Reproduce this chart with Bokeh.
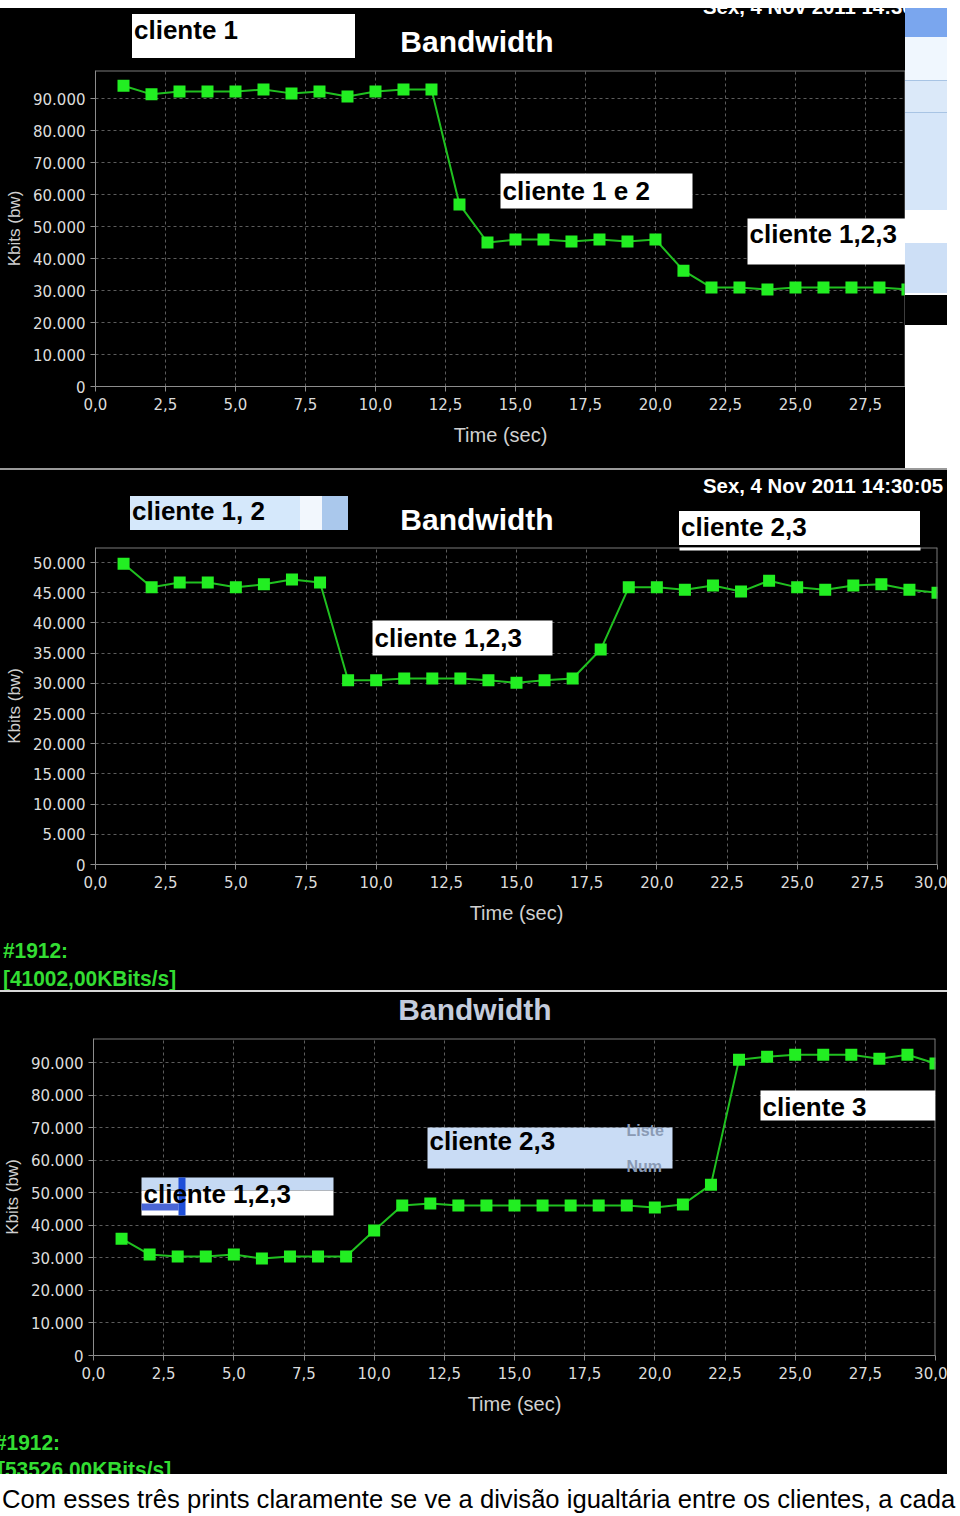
from bokeh.plotting import figure
from bokeh.models import (Label, BoxAnnotation, FixedTicker, CustomJSTickFormatter,
                          Div, Range1d, Span)
from bokeh.layouts import column, row
from bokeh.embed import file_html
from bokeh.resources import INLINE

# ---------------- data ----------------
time1 = [1, 2, 3, 4, 5, 6, 7, 8, 9, 10, 11, 12, 13, 14, 15, 16, 17, 18, 19, 20,
         21, 22, 23, 24, 25, 26, 27, 28, 29]
bw1 = [94000, 91300, 92200, 92200, 92200, 92800, 91600, 92200, 90600, 92200,
       92800, 92800, 56900, 45000, 45900, 45900, 45300, 45900, 45300, 45900,
       36200, 30900, 30900, 30300, 30900, 30900, 30900, 30900, 30300]

time2 = [1, 2, 3, 4, 5, 6, 7, 8, 9, 10, 11, 12, 13, 14, 15, 16, 17, 18, 19, 20,
         21, 22, 23, 24, 25, 26, 27, 28, 29, 30]
bw2 = [49800, 45900, 46700, 46700, 45900, 46400, 47200, 46700, 30500, 30500,
       30800, 30800, 30800, 30500, 30100, 30500, 30800, 35600, 45900, 45900,
       45500, 46200, 45200, 47000, 45900, 45500, 46200, 46400, 45500, 45000]

time3 = [1, 2, 3, 4, 5, 6, 7, 8, 9, 10, 11, 12, 13, 14, 15, 16, 17, 18, 19, 20,
         21, 22, 23, 24, 25, 26, 27, 28, 29, 30]
bw3 = [35900, 31000, 30400, 30400, 31000, 29800, 30400, 30400, 30400, 38400,
       46100, 46700, 46100, 46100, 46100, 46100, 46100, 46100, 46100, 45500,
       46400, 52500, 90900, 91800, 92400, 92400, 92400, 91200, 92400, 89700]

x_ticks = [0, 2.5, 5, 7.5, 10, 12.5, 15, 17.5, 20, 22.5, 25, 27.5, 30]
y_ticks_big = [0, 10000, 20000, 30000, 40000, 50000, 60000, 70000, 80000, 90000]
y_ticks_small = [0, 5000, 10000, 15000, 20000, 25000, 30000, 35000, 40000,
                 45000, 50000]

TITLE = "Bandwidth"
DATE = "Sex, 4 Nov 2011 14:30:05"
X_LABEL = "Time (sec)"
Y_LABEL = "Kbits (bw)"
STATUS_ID = "#1912:"
STATUS_2 = "[41002,00KBits/s]"
STATUS_3 = "[53526,00KBits/s]"
CAPTION = ("Com esses três prints claramente se ve a divisão igualtária entre "
           "os clientes, a cada")

GREEN_MK = "#22ee22"
GREEN_LN = "#20c020"
TXT_GREEN = "#33dd33"
FRAME_GRAY = "#7a7a7a"


def make_panel(width, height, fl, fr, ft, fb, xmax, ymax, yticks, xs, ys):
    p = figure(width=width, height=height, output_backend="svg",
               toolbar_location=None,
               x_range=Range1d(0, xmax), y_range=Range1d(0, ymax),
               min_border_left=fl, min_border_right=width - fr,
               min_border_top=ft, min_border_bottom=height - fb,
               background_fill_color="black", border_fill_color="black",
               outline_line_color=None, margin=0,
               styles={"background-color": "black"})
    p.xaxis.ticker = FixedTicker(ticks=x_ticks)
    p.yaxis.ticker = FixedTicker(ticks=yticks)
    p.xaxis.formatter = CustomJSTickFormatter(
        code="return tick.toFixed(1).replace('.', ',');")
    p.yaxis.formatter = CustomJSTickFormatter(
        code="return tick === 0 ? '0' : (tick/1000).toFixed(3);")
    for ax in (p.xaxis, p.yaxis):
        ax.axis_line_color = "#8c8c8c"
        ax.major_tick_line_color = "#8c8c8c"
        ax.minor_tick_line_color = None
        ax.major_tick_in = 0
        ax.major_tick_out = 5
        ax.major_label_text_color = "#dcdcdc"
        ax.major_label_text_font = "DejaVu Sans"
        ax.major_label_text_font_size = "15px"
        ax.axis_label_text_color = "#d0d0d0"
        ax.axis_label_text_font = "Liberation Sans"
        ax.axis_label_text_font_style = "normal"
    p.xaxis.axis_label = X_LABEL
    p.xaxis.axis_label_text_font_size = "20px"
    p.xaxis.axis_label_standoff = 11
    p.xaxis.major_label_standoff = 6
    p.yaxis.axis_label = Y_LABEL
    p.yaxis.axis_label_text_font_size = "17px"
    p.yaxis.axis_label_standoff = 6
    p.yaxis.major_label_standoff = 5
    p.grid.grid_line_color = "#5c5c5c"
    p.grid.grid_line_dash = "3 3"
    # frame edges (top and right) as in the screenshots
    p.add_layout(Span(location=ymax, dimension="width", line_color=FRAME_GRAY,
                      line_width=2))
    p.add_layout(Span(location=xmax, dimension="height", line_color=FRAME_GRAY,
                      line_width=2))
    p.line(xs, ys, line_color=GREEN_LN, line_width=2)
    p.scatter(xs, ys, marker="square", size=12, fill_color=GREEN_MK,
              line_color=None)
    return p


def box(p, l, t, r, b, color):
    p.add_layout(BoxAnnotation(left=l, right=r, top=t, bottom=b,
                               left_units="canvas", right_units="canvas",
                               top_units="canvas", bottom_units="canvas",
                               fill_color=color, fill_alpha=1.0,
                               line_color=None))


def label(p, x, y, text, size="26px", color="black", style="bold",
          font="Liberation Sans", align="left"):
    p.add_layout(Label(x=x, y=y, x_units="canvas", y_units="canvas",
                       text=text, text_font=font, text_font_size=size,
                       text_color=color, text_font_style=style,
                       text_baseline="middle", text_align=align))


# ---- HTML helpers for the parts that lie outside the plot frames ----
def hbox(left, top, w, h, color, extra=""):
    return (f'<div style="position:absolute;left:{left}px;top:{top}px;'
            f'width:{w}px;height:{h}px;background:{color};{extra}"></div>')


def htext(left, center, text, size=26, color="black", weight="bold",
          scale=1.0, align="left"):
    lh = size + 6
    if align == "center":
        pos = f"left:{left - 300}px;width:600px;text-align:center;"
    else:
        pos = f"left:{left}px;"
    return (f'<div style="position:absolute;{pos}top:{center - lh / 2}px;'
            f'line-height:{lh}px;font-family:\'Liberation Sans\';font-size:{size}px;'
            f'font-weight:{weight};color:{color};white-space:nowrap;'
            f'transform:scaleX({scale});transform-origin:left center;">{text}</div>')


def panel_div(width, height, parts, bg="black"):
    inner = (f'<div style="position:relative;width:{width}px;height:{height}px;'
             f'overflow:hidden;background:{bg};">' + "".join(parts) + "</div>")
    return Div(text=inner, width=width, height=height, margin=0,
               styles={"background": bg, "overflow": "hidden"})


# ---------------- panel 1 (y 8..468) ----------------
top_strip = Div(text="", width=960, height=8, margin=0,
                styles={"background": "white"})

head1 = panel_div(905, 60, [
    htext(703, -2, DATE, size=21, color="white", scale=0.97),
    hbox(132, 6, 223, 44, "white"),
    htext(134, 22, "cliente 1"),
    htext(477, 34, TITLE, size=30, color="white", align="center"),
])
p1 = make_panel(905, 400, 95, 905, 2, 318, 28.93, 98750, y_ticks_big,
                time1, bw1)
box(p1, 500, 105, 692, 140, "white")
label(p1, 502, 122, "cliente 1 e 2")
box(p1, 747, 150, 905, 196, "white")
label(p1, 749, 165, "cliente 1,2,3")

side1 = panel_div(55, 460, [
    hbox(0, 0, 42, 29, "#7aa6ee"),
    hbox(0, 29, 42, 43, "#f0f7fe"),
    hbox(0, 72, 42, 32, "#dbe9f9", "border-top:1px solid #a8c4e4;"),
    hbox(0, 104, 42, 98, "#d6e6f9", "border-top:1px solid #a8c4e4;"),
    hbox(0, 235, 42, 50, "#cddff6"),
    hbox(0, 287, 42, 30, "black"),
], bg="white")

# ---------------- panel 2 (y 468..992) ----------------
head2 = panel_div(947, 77, [
    hbox(0, 0, 947, 2, "#9a9a9a"),
    htext(703, 17, DATE, size=21, color="white", scale=0.97),
    hbox(130, 28, 218, 34, "#d5e8fb"),
    hbox(300, 28, 22, 34, "#f2f7fd"),
    hbox(322, 28, 26, 34, "#aac8ec"),
    htext(132, 43, "cliente 1, 2"),
    htext(477, 52, TITLE, size=30, color="white", align="center"),
    hbox(679, 43, 241, 40, "white"),
    htext(681, 59, "cliente 2,3"),
])
p2 = make_panel(947, 390, 95, 937, 2, 319, 30, 52500, y_ticks_small,
                time2, bw2)
box(p2, 679, 0, 920, 5, "white")
box(p2, 372, 75, 552, 110, "white")
label(p2, 374, 92, "cliente 1,2,3")
foot2 = panel_div(947, 57, [
    htext(3, 16, STATUS_ID, size=22, color=TXT_GREEN, scale=0.95),
    htext(3, 44, STATUS_2, size=22, color=TXT_GREEN, scale=0.95),
    hbox(0, 55, 947, 2, "#d8d8d8"),
])
side2 = Div(text="", width=13, height=524, margin=0,
            styles={"background": "white"})

# ---------------- panel 3 (y 992..1474) ----------------
head3 = panel_div(947, 44, [
    htext(475, 18, TITLE, size=30, color="#c4ccdc", align="center"),
])
p3 = make_panel(947, 389, 93, 935, 2, 319, 30, 97400, y_ticks_big,
                time3, bw3)
box(p3, 427, 91, 672, 132, "#c9dcf5")
label(p3, 626, 94, "Liste", size="16px", color="#8a9ab4")
label(p3, 626, 130, "Num", size="16px", color="#8a9ab4")
label(p3, 429, 104, "cliente 2,3")
box(p3, 141, 141, 333, 154, "#c5d9f3")
box(p3, 141, 154, 333, 179, "white")
box(p3, 141, 167, 178, 174, "#4a66d6")
box(p3, 178, 141, 185, 179, "#1f4fd8")
label(p3, 143, 157, "cliente 1,2,3")
box(p3, 760, 54, 935, 84, "white")
label(p3, 762, 70, "cliente 3")
foot3 = panel_div(947, 49, [
    htext(-5, 18, STATUS_ID, size=22, color=TXT_GREEN, scale=0.95),
    htext(-2, 45, STATUS_3, size=22, color=TXT_GREEN, scale=0.95),
])
side3 = Div(text="", width=13, height=482, margin=0,
            styles={"background": "white"})

caption = Div(text=CAPTION, width=960, height=42, margin=0,
              styles={"background": "white", "font-family": "Liberation Sans",
                      "font-size": "25.6px", "color": "black",
                      "white-space": "nowrap", "overflow": "hidden",
                      "padding-left": "2px", "line-height": "50px"})

layout = column(
    top_strip,
    row(column(head1, p1, spacing=0), side1, spacing=0),
    row(column(head2, p2, foot2, spacing=0), side2, spacing=0),
    row(column(head3, p3, foot3, spacing=0), side3, spacing=0),
    caption, spacing=0)

open("out.html", "w").write(file_html(layout, INLINE))
